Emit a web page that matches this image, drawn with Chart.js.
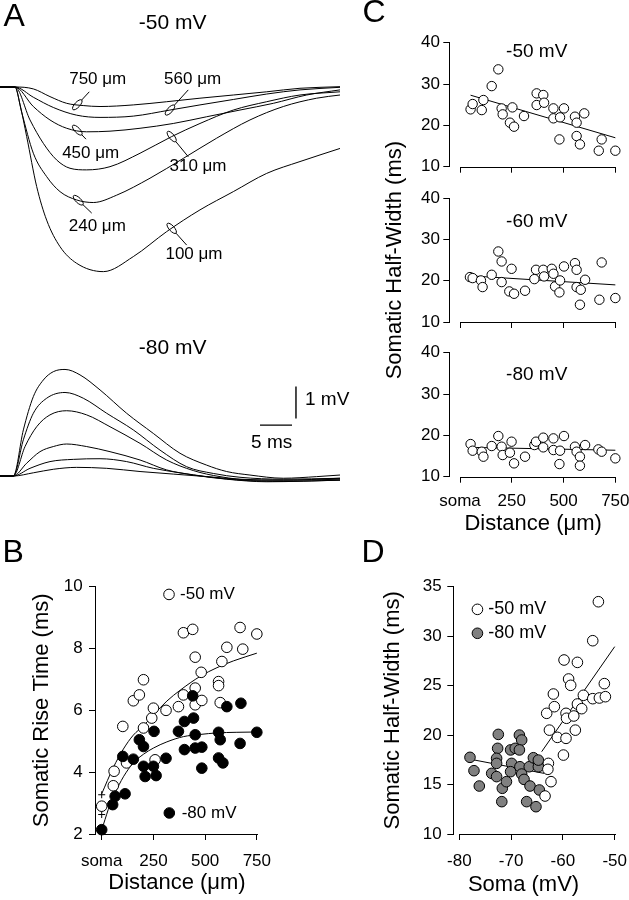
<!DOCTYPE html>
<html>
<head>
<meta charset="utf-8">
<script src="https://cdn.jsdelivr.net/npm/chart.js@4.4.1/dist/chart.umd.min.js"></script>
<style>
  html, body { margin: 0; padding: 0; background: #fff; }
  body { position: relative; width: 629px; height: 900px; overflow: hidden; }
  canvas { position: absolute; }
</style>
</head>
<body>
<canvas id="traces50" width="345" height="300" style="left:0;top:0"></canvas>
<canvas id="traces80" width="370" height="200" style="left:0;top:300px"></canvas>
<canvas id="hw50" width="289" height="540" style="left:340px;top:0"></canvas>
<canvas id="hw60" width="289" height="540" style="left:340px;top:0"></canvas>
<canvas id="hw80" width="289" height="540" style="left:340px;top:0"></canvas>
<canvas id="rise" width="320" height="360" style="left:0;top:540px"></canvas>
<canvas id="hwSoma" width="309" height="360" style="left:320px;top:540px"></canvas>
<script>
// ---- A: somatic EPSPs, [time (ms), mV from baseline] ----
const trace50_100 = [[0,0],[2.34,0],[3.13,-0.55],[4.17,-1.55],[5.73,-3.11],[7.29,-4.16],[9.38,-4.99],[11.98,-5.51],[16.15,-5.77],[20.83,-5.30],[26.04,-4.52],[31.25,-3.84],[36.46,-3.27],[41.67,-2.70],[46.88,-2.33],[53.13,-1.92]];
const trace50_240 = [[0,0],[2.34,0],[3.4,-0.8],[5.21,-2.07],[7.29,-2.80],[9.38,-3.27],[11.98,-3.53],[14.58,-3.61],[18.23,-3.38],[23.44,-2.85],[28.65,-2.23],[33.85,-1.60],[39.06,-1.03],[44.27,-0.61],[49.48,-0.35],[53.13,-0.25]];
const trace50_310 = [[0,0],[2.34,0],[4.69,-1.03],[6.77,-1.76],[8.85,-2.28],[10.94,-2.54],[13.54,-2.59],[17.19,-2.49],[21.88,-2.07],[26.82,-1.55],[31.25,-1.14],[36.46,-0.72],[41.67,-0.46],[46.88,-0.25],[53.13,-0.15]];
const trace50_450 = [[0,0],[2.34,0],[5.21,-0.61],[7.81,-1.03],[10.42,-1.29],[13.54,-1.40],[17.19,-1.38],[21.88,-1.29],[27.08,-1.14],[32.29,-0.93],[37.5,-0.72],[42.71,-0.51],[47.92,-0.25],[53.13,-0.09]];
const trace50_560 = [[0,0],[2.34,0],[5.21,-0.32],[8.33,-0.64],[11.98,-0.88],[15.63,-0.95],[20.83,-0.91],[26.56,-0.72],[31.25,-0.56],[36.46,-0.39],[41.67,-0.22],[46.88,-0.09],[53.13,-0.01]];
const trace50_750 = [[0,0],[2.34,0],[5.21,-0.06],[7.81,-0.30],[10.42,-0.51],[13.0,-0.58],[15.63,-0.61],[20.83,-0.56],[26.04,-0.46],[31.25,-0.35],[36.46,-0.25],[41.67,-0.15],[46.88,-0.04],[53.13,0.01]];

const trace80_1 = [[0,0],[2.08,0],[3.65,1.44],[5.21,2.48],[6.77,3.0],[8.33,3.26],[10.16,3.33],[12.5,3.16],[15.63,2.69],[19.79,1.96],[23.96,1.33],[28.13,0.71],[32.29,0.34],[35.42,0.14],[39.06,0.03],[44.27,-0.07],[49.48,-0.02],[53.13,0.03]];
const trace80_2 = [[0,0],[2.08,0],[3.65,1.13],[5.21,1.96],[7.29,2.43],[10.16,2.61],[13.02,2.43],[16.67,1.96],[20.83,1.44],[25.0,0.81],[29.17,0.29],[33.33,0.08],[37.5,-0.04],[44.27,-0.10],[53.13,-0.07]];
const trace80_3 = [[0,0],[2.08,0],[3.91,0.92],[5.73,1.54],[7.81,1.91],[10.42,2.04],[13.54,1.91],[17.19,1.54],[21.88,1.02],[26.04,0.5],[30.21,0.17],[34.38,-0.02],[39.58,-0.13],[45.83,-0.13],[53.13,-0.10]];
const trace80_4 = [[0,0],[2.08,0],[4.17,0.40],[6.25,0.76],[8.33,0.92],[10.42,1.0],[13.54,0.92],[17.19,0.76],[21.88,0.5],[26.04,0.19],[30.21,0.03],[35.42,-0.10],[41.67,-0.18],[53.13,-0.13]];
const trace80_5 = [[0,0],[2.08,0],[4.69,0.24],[7.81,0.45],[11.46,0.52],[15.63,0.54],[19.79,0.45],[23.96,0.24],[28.13,0.10],[32.29,-0.02],[37.5,-0.13],[44.27,-0.17],[53.13,-0.13]];
const trace80_6 = [[0,0],[2.08,0],[5.21,0.10],[8.33,0.21],[11.98,0.27],[16.67,0.24],[21.88,0.14],[27.08,0.06],[32.29,-0.02],[37.5,-0.10],[44.27,-0.13],[53.13,-0.07]];

const traceLabels = ['100 μm', '240 μm', '310 μm', '450 μm', '560 μm', '750 μm'];
const barMs = 5;
const barMv = 1;

// ---- B: rise time vs distance ----
const bDist50 = [0,56,60,102,120,153,182,202,202,242,250,258,311,371,395,395,440,452,452,452,481,484,565,565,573,581,605,669,682,750];
const bRise50 = [2.9,3.56,4.03,5.48,4.3,6.31,6.5,6.99,5.43,5.75,6.07,4.4,6.0,6.12,6.5,8.51,8.62,7.72,6.72,6.18,7.23,6.32,6.93,6.8,6.25,7.58,8.04,8.68,7.98,8.47];
const bDist80 = [0,53,65,113,102,153,182,202,202,210,250,253,263,311,371,400,400,440,444,452,452,484,484,565,573,565,586,605,673,669,750];
const bRise80 = [2.14,2.95,3.22,3.3,4.51,4.42,5.05,4.83,4.19,3.86,4.19,5.32,3.89,4.45,5.32,5.64,4.73,6.47,5.75,5.21,4.78,4.81,4.13,5.29,5.05,4.46,4.3,6.12,6.23,4.93,5.29];
const bSemX = [0, 0];
const bSemY = [3.27, 2.63];
const bFit50X = [0,56,105,153,202,250,315,379,476,557,637,750];
const bFit50 = [3.3,4.15,4.75,5.2,5.5,5.85,6.3,6.65,7.1,7.38,7.6,7.85];
const bFit80X = [8,40,65,105,153,202,250,315,395,476,557,650,750];
const bFit80 = [2.3,2.95,3.33,3.85,4.3,4.58,4.78,4.98,5.15,5.22,5.27,5.29,5.3];
const distTicks = [0, 250, 500, 750];
const riseTicks = [2, 4, 6, 8, 10];

// ---- C: half-width vs distance at three holding potentials ----
const cDist50 = [51,61,105,113,153,185,201,206,253,241,261,309,370,370,402,406,451,451,502,483,480,555,563,563,579,600,684,670,750];
const cHw50 = [23.87,25.16,23.7,26.13,29.5,33.55,24.1,22.66,24.35,20.65,19.68,22.26,27.74,24.92,27.34,25.48,24.11,21.7,24.11,21.94,16.6,22.1,20.65,17.42,15.4,22.9,16.6,13.87,13.87];
const cDist60 = [48,61,101,109,153,185,201,201,249,238,261,314,359,367,402,406,443,451,459,483,480,502,555,563,563,583,579,604,684,673,750];
const cHw60 = [20.89,20.65,20.08,18.47,21.45,27.1,24.68,19.68,22.9,17.42,16.85,17.58,20.4,22.66,22.66,21.05,22.9,21.7,18.63,20.08,17.18,23.47,24.27,22.66,18.47,17.82,14.19,20.24,24.44,15.4,15.81];
const cDist80 = [51,61,105,113,153,185,201,206,249,241,261,314,359,367,402,402,451,451,502,483,480,555,563,579,579,604,668,684,750];
const cHw80 = [17.9,16.29,16.05,14.84,17.42,19.84,17.26,15.24,18.47,15.81,13.23,14.84,17.66,18.47,19.44,17.1,19.27,16.45,19.84,16.29,13.06,17.26,16.05,14.84,12.66,17.66,16.61,16.05,14.44];
const cFitX = [51, 750];
const cFit50 = [27.3, 17.0];
const cFit60X = [48, 750];
const cFit60 = [21.2, 19.0];
const cFit80 = [17.1, 16.4];
const hwTicks = [10, 20, 30, 40];

// ---- D: half-width vs somatic potential ----
const dSoma50 = [-53.15,-54.24,-59.78,-57.2,-58.9,-58.5,-61.84,-63.13,-61.65,-56.05,-57.2,-54.24,-52.96,-51.8,-52.0,-56.37,-59.4,-59.3,-57.9,-62.6,-61.07,-59.4,-57.6,-59.9,-62.8,-62.9,-62.3,-63.45];
const dHw50 = [33.48,29.54,27.59,27.35,25.67,25.03,24.15,22.2,22.87,24.02,23.14,23.68,23.75,23.88,25.2,22.67,22.2,21.7,21.93,20.5,19.77,19.67,20.5,17.98,17.14,16.54,15.29,13.84];
const dSoma80 = [-77.94,-77.17,-76.14,-72.47,-72.6,-72.8,-72.8,-73.75,-72.8,-71.7,-71.8,-70.1,-69.9,-70.1,-69.2,-68.4,-67.96,-68.4,-68.3,-67.96,-67.5,-66.5,-66.35,-67.0,-65.7,-65.2,-64.74,-64.55,-64.74,-70.9];
const dHw80 = [17.75,16.4,14.85,20.07,18.66,17.65,17.14,16.13,15.8,14.62,13.27,18.5,17.14,16.3,18.66,20.0,19.5,18.5,16.8,16.06,15.52,16.8,14.85,13.27,17.71,12.76,16.8,14.45,17.47,15.29];
const dFit50X = [-64.1, -50];
const dFit50 = [18.32, 28.94];
const dFit80X = [-78.8, -63.65];
const dFit80 = [17.65, 16.13];
const somaTicks = [-80, -70, -60, -50];
const dHwTicks = [10, 15, 20, 25, 30, 35];

const FONT = '"Liberation Sans", Arial, sans-serif';
Chart.defaults.font.family = FONT;
Chart.defaults.color = '#000';
Chart.defaults.animation = false;

function pts(xs, ys) {
  return xs.map((x, i) => ({ x: x, y: ys[i] }));
}
function pairs(arr) {
  return arr.map(p => ({ x: p[0], y: p[1] }));
}

// draws the offset x-axis line, callouts, scale bar, legend markers and free text
const extras = {
  id: 'extras',
  afterDraw(chart, args, o) {
    const ctx = chart.ctx, sx = chart.scales.x, sy = chart.scales.y;
    const X = v => sx.getPixelForValue(v), Y = v => sy.getPixelForValue(v);
    ctx.save();
    ctx.strokeStyle = '#000';
    ctx.fillStyle = '#000';
    ctx.lineWidth = 1;
    if (o.xLine) {
      const y = Math.round(chart.chartArea.bottom) + 0.5;
      ctx.beginPath();
      ctx.moveTo(Math.round(X(o.xLine[0])), y);
      ctx.lineTo(Math.round(X(o.xLine[o.xLine.length - 1])) + 1, y);
      ctx.stroke();
    }
    (o.callouts || []).forEach(c => {
      const d = chart.data.datasets[c.ds].data;
      let v = d[0].y;
      for (let i = 1; i < d.length; i++) {
        if (d[i].x >= c.t) {
          const a = d[i - 1], b = d[i];
          v = a.y + (b.y - a.y) * (c.t - a.x) / (b.x - a.x);
          break;
        }
      }
      const ex = X(c.t), ey = Y(v), lx = X(c.lx), ly = Y(c.ly);
      const ang = Math.atan2(ly - ey, lx - ex);
      ctx.beginPath();
      ctx.ellipse(ex, ey, 6.5, 2.6, ang, 0, Math.PI * 2);
      ctx.stroke();
      ctx.beginPath();
      ctx.moveTo(ex + 6.5 * Math.cos(ang), ey + 6.5 * Math.sin(ang));
      ctx.lineTo(lx, ly);
      ctx.stroke();
      ctx.font = '17px ' + FONT;
      ctx.textAlign = 'center';
      ctx.textBaseline = 'middle';
      ctx.fillText(c.text, X(c.tx), Y(c.ty));
    });
    if (o.scaleBar) {
      const b = o.scaleBar;
      ctx.lineWidth = 1.4;
      ctx.beginPath();
      ctx.moveTo(X(b.vx), Y(b.vy));
      ctx.lineTo(X(b.vx), Y(b.vy + b.mv));
      ctx.moveTo(X(b.hx), Y(b.hy));
      ctx.lineTo(X(b.hx + b.ms), Y(b.hy));
      ctx.stroke();
      ctx.lineWidth = 1;
    }
    (o.markers || []).forEach(m => {
      ctx.beginPath();
      ctx.arc(X(m.x), Y(m.y), 5.3, 0, Math.PI * 2);
      ctx.fillStyle = m.fill;
      ctx.fill();
      ctx.stroke();
    });
    ctx.fillStyle = '#000';
    (o.texts || []).forEach(t => {
      ctx.font = (t.size || 17) + 'px ' + FONT;
      ctx.textAlign = t.align || 'center';
      ctx.textBaseline = 'middle';
      ctx.fillText(t.text, X(t.x), Y(t.y));
    });
    ctx.restore();
  }
};
Chart.register(extras);

function fixSize(prop, size) {
  return function (s) {
    s[prop] = size;
    s.paddingLeft = 0;
    s.paddingRight = 0;
    s.paddingTop = 0;
    s.paddingBottom = 0;
  };
}

function xAxis(min, max, ticks, height, pad, showLabels, title, fmt) {
  return {
    type: 'linear', position: 'bottom', min: min, max: max,
    afterBuildTicks: s => { s.ticks = ticks.map(v => ({ value: v })); },
    afterFit: fixSize('height', height),
    border: { display: false },
    grid: { display: true, drawOnChartArea: false, drawTicks: true, tickLength: 6, color: '#000', tickColor: '#000' },
    ticks: { display: showLabels, padding: pad, font: { size: 17 }, color: '#000', maxRotation: 0, autoSkip: false,
             callback: fmt || (v => String(v)) },
    title: { display: !!title, text: title || '', font: { size: 22 }, color: '#000', padding: 0 }
  };
}

function yAxis(min, max, ticks, width, pad, title) {
  return {
    type: 'linear', position: 'left', min: min, max: max,
    afterBuildTicks: s => { s.ticks = ticks.map(v => ({ value: v })); },
    afterFit: fixSize('width', width),
    border: { display: true, color: '#000', width: 1 },
    grid: { display: true, drawOnChartArea: false, drawTicks: true, tickLength: 6, color: '#000', tickColor: '#000' },
    ticks: { padding: pad, font: { size: 17 }, color: '#000', callback: v => String(v) },
    title: { display: !!title, text: title || '', font: { size: 22 }, color: '#000', padding: 0 }
  };
}

const distFmt = v => (v === 0 ? 'soma' : String(v));

function baseOptions(padding, extrasOpts, scales) {
  return {
    responsive: false, animation: false, events: [],
    layout: { padding: padding },
    plugins: { legend: { display: false }, tooltip: { enabled: false }, extras: extrasOpts },
    scales: scales
  };
}

function traceSet(arr) {
  return { data: pairs(arr), borderColor: '#000', borderWidth: 1, pointRadius: 0,
           cubicInterpolationMode: 'monotone', fill: false };
}
function lineSet(xs, ys) {
  return { data: pts(xs, ys), showLine: true, pointRadius: 0, borderColor: '#000', borderWidth: 1,
           cubicInterpolationMode: 'monotone', fill: false, clip: false };
}
function dotSet(xs, ys, r, fill) {
  return { data: pts(xs, ys), pointRadius: r, backgroundColor: fill, borderColor: '#000', borderWidth: 1, clip: false };
}

// A, -50 mV
new Chart(document.getElementById('traces50'), {
  type: 'line',
  data: { datasets: [trace50_100, trace50_240, trace50_310, trace50_450, trace50_560, trace50_750].map(traceSet) },
  options: baseOptions({ left: 0, right: 5, top: 71, bottom: 21 }, {
    callouts: [
      { ds: 5, text: traceLabels[5], t: 12.08, lx: 13.95, ly: -0.15, tx: 15.27, ty: 0.25 },
      { ds: 4, text: traceLabels[4], t: 26.56, lx: 29.42, ly: -0.09, tx: 30.1, ty: 0.25 },
      { ds: 3, text: traceLabels[3], t: 12.08, lx: 13.44, ly: -1.63, tx: 14.17, ty: -2.07 },
      { ds: 2, text: traceLabels[2], t: 26.83, lx: 29.42, ly: -2.18, tx: 30.94, ty: -2.49 },
      { ds: 1, text: traceLabels[1], t: 12.23, lx: 14.33, ly: -3.94, tx: 15.2, ty: -4.34 },
      { ds: 0, text: traceLabels[0], t: 26.83, lx: 29.17, ly: -4.94, tx: 30.31, ty: -5.22 }
    ],
    texts: [
      { text: 'A', x: 2.22, y: 2.17, size: 32 },
      { text: '-50 mV', x: 26.98, y: 2.0, size: 21 }
    ]
  }, {
    x: { type: 'linear', display: false, min: 0, max: 53.13 },
    y: { display: false, min: -6, max: 0.5 }
  })
});

// A, -80 mV
new Chart(document.getElementById('traces80'), {
  type: 'line',
  data: { datasets: [trace80_1, trace80_2, trace80_3, trace80_4, trace80_5, trace80_6].map(traceSet) },
  options: baseOptions({ left: 0, right: 30, top: 60.8, bottom: 8 }, {
    scaleBar: { vx: 46.25, vy: 1.80, mv: barMv, hx: 40.63, hy: 1.59, ms: barMs },
    texts: [
      { text: '-80 mV', x: 26.98, y: 3.99, size: 21 },
      { text: barMv + ' mV', x: 47.66, y: 2.375, size: 19, align: 'left' },
      { text: barMs + ' ms', x: 42.45, y: 1.05, size: 19 }
    ]
  }, {
    x: { type: 'linear', display: false, min: 0, max: 53.13 },
    y: { display: false, min: -0.5, max: 3.6 }
  })
});

// B
new Chart(document.getElementById('rise'), {
  type: 'scatter',
  data: { datasets: [
    dotSet(bDist80, bRise80, 5.3, '#000'),
    dotSet(bDist50, bRise50, 5.3, '#fff'),
    { data: pts(bSemX, bSemY), pointStyle: 'cross', pointRadius: 3.5, borderColor: '#000', borderWidth: 1, clip: false },
    lineSet(bFit50X, bFit50),
    lineSet(bFit80X, bFit80)
  ] },
  options: baseOptions({ left: 28.5, right: 61.1, top: 46.7, bottom: 3.5 }, {
    xLine: distTicks,
    markers: [ { x: 325.4, y: 9.75, fill: '#fff' }, { x: 326.9, y: 2.68, fill: '#000' } ],
    texts: [
      { text: 'B', x: -427.5, y: 11.09, size: 32 },
      { text: '-50 mV', x: 378.6, y: 9.75, size: 17, align: 'left' },
      { text: '-80 mV', x: 386.8, y: 2.68, size: 17, align: 'left' }
    ]
  }, {
    x: xAxis(-32.4, 760, distTicks, 62.5, 11.5, true, 'Distance (μm)', distFmt),
    y: yAxis(2, 10, riseTicks, 66.5, 6.3, 'Somatic Rise Time (ms)')
  })
});

// C, three stacked panels
function halfWidthChart(id, dist, hw, fitX, fitY, pad, xHeight, xPad, showX, yTitle, extrasOpts) {
  return new Chart(document.getElementById(id), {
    type: 'scatter',
    data: { datasets: [ dotSet(dist, hw, 4.7, '#fff'), lineSet(fitX, fitY) ] },
    options: baseOptions(pad, extrasOpts, {
      x: xAxis(-51.7, 758, distTicks, xHeight, xPad, showX, showX ? 'Distance (μm)' : '', distFmt),
      y: yAxis(10, 40, hwTicks, 67.5, 3.3, yTitle)
    })
  });
}
halfWidthChart('hw50', cDist50, cHw50, cFitX, cFit50, { left: 41.8, right: 12, top: 42.7, bottom: 363.3 }, 10, 8.8, false, '', {
  xLine: distTicks,
  texts: [ { text: 'C', x: -415.3, y: 47.1, size: 32 }, { text: '-50 mV', x: 370.4, y: 37.8, size: 19 } ]
});
halfWidthChart('hw60', cDist60, cHw60, cFit60X, cFit60, { left: 41.8, right: 12, top: 198.3, bottom: 208 }, 10, 8.8, false, 'Somatic Half-Width (ms)', {
  xLine: distTicks,
  texts: [ { text: '-60 mV', x: 370.4, y: 34.3, size: 19 } ]
});
halfWidthChart('hw80', cDist80, cHw80, cFitX, cFit80, { left: 41.8, right: 12, top: 352.7, bottom: 2.8 }, 60.5, 8.8, true, '', {
  xLine: distTicks,
  texts: [ { text: '-80 mV', x: 370.4, y: 34.6, size: 19 } ]
});

// D
new Chart(document.getElementById('hwSoma'), {
  type: 'scatter',
  data: { datasets: [
    dotSet(dSoma50, dHw50, 5.3, '#fff'),
    dotSet(dSoma80, dHw80, 5.3, '#808080'),
    lineSet(dFit50X, dFit50),
    lineSet(dFit80X, dFit80)
  ] },
  options: baseOptions({ left: 60.1, right: 13, top: 46.7, bottom: 1.8 }, {
    xLine: somaTicks,
    markers: [ { x: -76.5, y: 32.71, fill: '#fff' }, { x: -76.5, y: 30.29, fill: '#808080' } ],
    texts: [
      { text: 'D', x: -96.66, y: 38.41, size: 32 },
      { text: '-50 mV', x: -74.4, y: 32.71, size: 18, align: 'left' },
      { text: '-80 mV', x: -74.4, y: 30.29, size: 18, align: 'left' },
      { text: 'Soma (mV)', x: -67.6, y: 4.84, size: 22 }
    ]
  }, {
    x: xAxis(-81.16, -49.75, somaTicks, 64.2, 11.5, true, ''),
    y: yAxis(10, 35, dHwTicks, 73.2, 5.6, 'Somatic Half-Width (ms)')
  })
});
</script>
</body>
</html>
